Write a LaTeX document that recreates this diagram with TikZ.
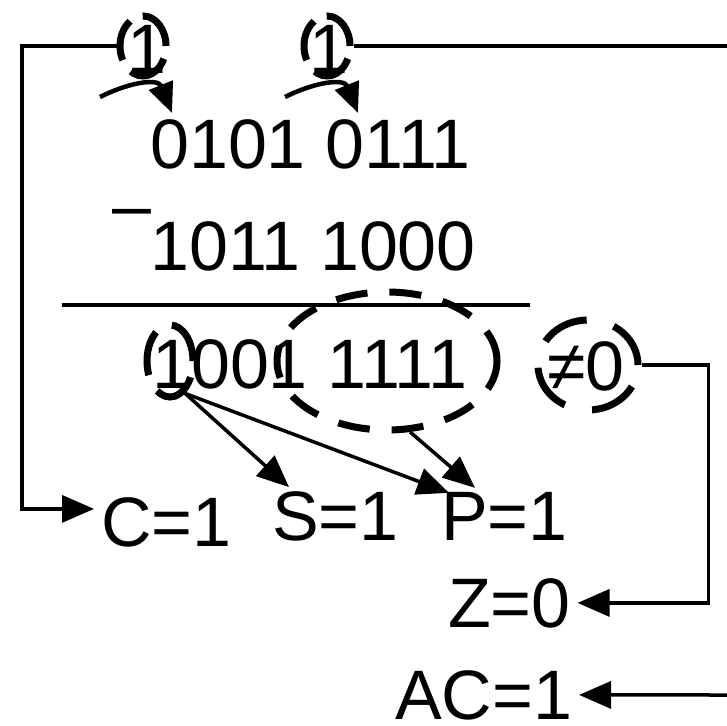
\documentclass[tikz,border=0pt]{standalone}
\usepackage{fontspec}
\setmainfont{Liberation Sans}
\usetikzlibrary{arrows.meta,shapes.geometric}

\begin{document}
\begin{tikzpicture}[x=1pt,y=-1pt,
    digits/.style={inner sep=0pt, anchor=base west, font=\fontsize{70}{80}\selectfont},
    flag/.style={digits, outer xsep=7pt, outer ysep=0pt},
    ring/.style={ellipse, draw, line width=7pt, inner sep=0pt},
    wire/.style={line width=3.5pt},
    flow/.style={wire, -{Triangle[length=32pt,width=27pt]}},
    hook/.style={line width=4.5pt, -{Triangle[length=30pt,width=25pt]}}]
  \useasboundingbox (0,0) rectangle (727,725);

  % Borrows
  \node[digits] (ba) at (127,73) {1};
  \node[digits] (bb) at (309,73) {1};
  \node[ring, minimum width=46pt, minimum height=60pt, dash pattern=on 42pt off 14pt] (ra) at (143,46) {};
  \node[ring, minimum width=46pt, minimum height=60pt, dash pattern=on 42pt off 14pt] (rb) at (327,46) {};
  \coordinate (ta) at (100,97);  \coordinate (tipa) at (172,113);
  \coordinate (tb) at (285,97);  \coordinate (tipb) at (358,113);
  \draw[hook] (ta) .. controls (130,82) and (158,78) .. (tipa);
  \draw[hook] (tb) .. controls (315,82) and (344,78) .. (tipb);

  % Subtraction
  \node[digits] (rowa) at (150,168) {0101 0111};
  \node[digits] (minus) at (112,229) {–};
  \node[digits] (rowb) at (150,270) {1011 1000};
  \draw[line width=3.5pt] (62,305) -- (530,305);
  \node[digits] (rowc) at (152,388) {1001 1111};
  \node[digits] (nz) at (547,390) {≠0};

  % Rings on the result
  \node[ring, minimum width=46pt, minimum height=72pt, dash pattern=on 45pt off 18pt] (rc) at (170,361) {};
  \node[ring, minimum width=220pt, minimum height=138pt, dash pattern=on 32pt off 22pt] (re) at (387,361) {};
  \node[ring, minimum width=100pt, minimum height=90pt, dash pattern=on 48pt off 28pt] (rn) at (588,365) {};

  % Flags
  \node[flag] (cf) at (94,546) {C=1};
  \node[flag] (sf) at (265,540) {S=1};
  \node[flag] (pf) at (434,540) {P=1};
  \node[flag] (zf) at (441,627) {Z=0};
  \node[flag] (af) at (388,719) {AC=1};

  % Connectors
  \coordinate (redge) at (727,46);
  \coordinate (aedge) at (727,695);
  \draw[flow] (ra.west) -| ([xshift=-72pt,yshift=13pt]cf.west) -- ([yshift=13pt]cf.west);
  \draw[wire] (rb.east) -- (redge);
  \draw[flow] (rc.-65) -- ([xshift=24pt,yshift=4pt]sf.north west);
  \draw[flow] (rc.-65) -- ([xshift=15pt,yshift=-1pt]pf.north west);
  \draw[flow] (re.-72) -- ([xshift=41pt,yshift=4pt]pf.north west);
  \draw[flow] (rn.east) -| ([xshift=131pt]zf.east) -- (zf.east);
  \draw[flow] (aedge) -- (af.east);
\end{tikzpicture}
\end{document}
